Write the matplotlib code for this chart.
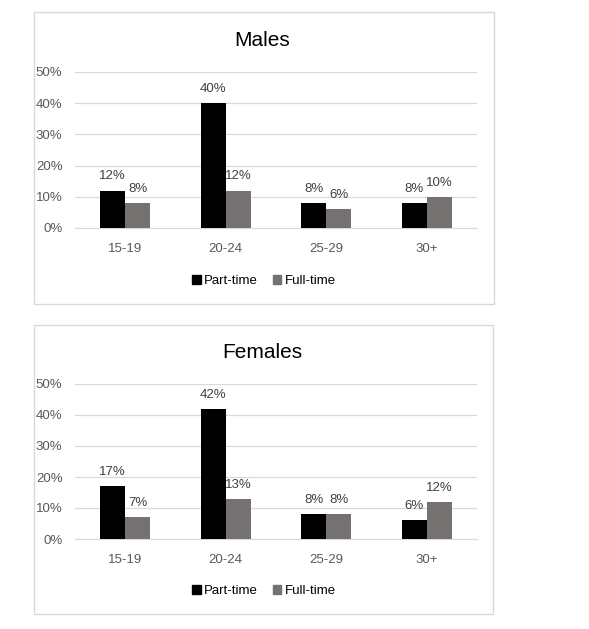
import matplotlib
matplotlib.use("Agg")
import matplotlib.pyplot as plt
from matplotlib.patches import Rectangle, Patch
import numpy as np

plt.rcParams['font.family'] = ['Liberation Sans', 'DejaVu Sans']

categories = ["15-19", "20-24", "25-29", "30+"]
males_part = [12, 40, 8, 8]
males_full = [8, 12, 6, 10]
females_part = [17, 42, 8, 6]
females_full = [7, 13, 8, 12]
series_names = ["Part-time", "Full-time"]
yticks = [0, 10, 20, 30, 40, 50]

PT_COLOR = "#000000"
FT_COLOR = "#767171"
GRID = "#d9d9d9"
TXT = "#595959"
LBL = "#404040"

fig = plt.figure(figsize=(5.89, 6.29), dpi=100)
W, H = 589, 629

def fx(px):
    return px / W

def fy(py):
    return 1 - py / H

def panel(box, ax_rect, title, title_y, legend_y, part, full):
    x0, y0, x1, y1 = box
    fig.patches.append(Rectangle((fx(x0), fy(y1)), fx(x1) - fx(x0), fy(y0) - fy(y1),
                                 transform=fig.transFigure, fill=False,
                                 edgecolor=GRID, linewidth=1.0, zorder=-10))
    l, t, r, b = ax_rect
    ax = fig.add_axes([fx(l), fy(b), fx(r) - fx(l), fy(t) - fy(b)])
    x = np.arange(len(categories))
    w = 0.25
    ax.bar(x - w / 2, part, w, color=PT_COLOR, zorder=3, label=series_names[0])
    ax.bar(x + w / 2, full, w, color=FT_COLOR, zorder=3, label=series_names[1])
    for xi, v in zip(x, part):
        ax.text(xi - w / 2, v + 2.6, f"{v}%", ha="center", va="bottom",
                fontsize=9.5, color=LBL)
    for xi, v in zip(x, full):
        ax.text(xi + w / 2, v + 2.6, f"{v}%", ha="center", va="bottom",
                fontsize=9.5, color=LBL)
    ax.set_xlim(-0.5, len(categories) - 0.5)
    ax.set_ylim(0, 50)
    ax.set_yticks(yticks)
    ax.set_yticklabels([f"{v}%" for v in yticks])
    ax.set_xticks(x)
    ax.set_xticklabels(categories)
    ax.tick_params(axis="both", length=0, labelsize=9.5, labelcolor=TXT)
    ax.tick_params(axis="x", pad=10.5)
    ax.tick_params(axis="y", pad=9)
    ax.grid(axis="y", color=GRID, linewidth=0.9, zorder=0)
    for s in ["top", "right", "left"]:
        ax.spines[s].set_visible(False)
    ax.spines["bottom"].set_color(GRID)
    ax.set_facecolor("none")
    fig.text(fx(262), fy(title_y), title, ha="center", va="center",
             fontsize=15, color="#000000")
    handles = [Patch(color=PT_COLOR), Patch(color=FT_COLOR)]
    fig.legend(handles, series_names, loc="center", bbox_to_anchor=(fx(264), fy(legend_y)),
               ncol=2, frameon=False, fontsize=9.5, handlelength=0.65, handleheight=0.7,
               handletextpad=0.25, columnspacing=1.1, labelcolor="#000000")
    return ax

panel((34, 12, 494, 304), (75, 72, 477, 228), "Males", 40, 281, males_part, males_full)
panel((34, 325, 493, 614), (75, 384, 477, 539), "Females", 352, 591, females_part, females_full)

fig.savefig("out.png", dpi=100, facecolor="white")
